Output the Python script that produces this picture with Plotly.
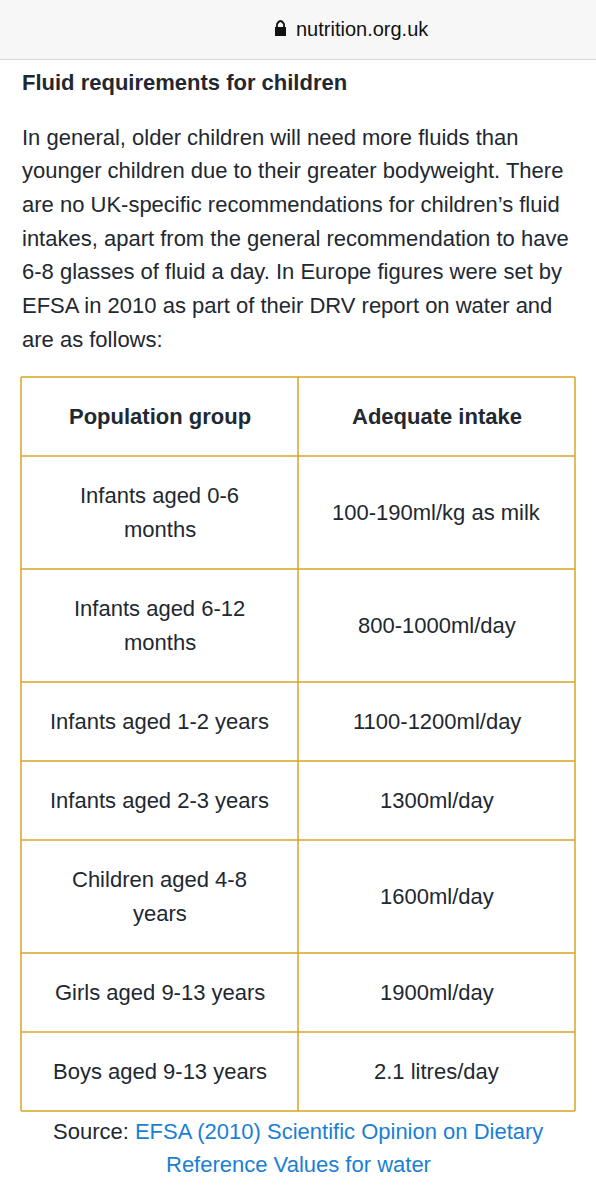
import plotly.graph_objects as go

groups = ["Infants aged 0-6\nmonths", "Infants aged 6-12\nmonths", "Infants aged 1-2 years",
          "Infants aged 2-3 years", "Children aged 4-8\nyears", "Girls aged 9-13 years",
          "Boys aged 9-13 years"]
intakes = ["100-190ml/kg as milk", "800-1000ml/day", "1100-1200ml/day", "1300ml/day",
           "1600ml/day", "1900ml/day", "2.1 litres/day"]
headers = ["Population group", "Adequate intake"]
paragraph = ["In general, older children will need more fluids than",
             "younger children due to their greater bodyweight. There",
             "are no UK-specific recommendations for children\u2019s fluid",
             "intakes, apart from the general recommendation to have",
             "6-8 glasses of fluid a day. In Europe figures were set by",
             "EFSA in 2010 as part of their DRV report on water and",
             "are as follows:"]

W, H = 596, 1200
FONT = "Liberation Sans, Arial, sans-serif"
DARK = "#222831"
GOLD = "#d9a526"
BLUE = "#1a7fd4"
fig = go.Figure()
shapes, ann = [], []

def text(x, y, s, size=22, color=DARK, anchor="center", bold=False):
    if bold:
        s = "<b>" + s + "</b>"
    ann.append(dict(x=x, y=y, text=s, showarrow=False, xanchor=anchor, yanchor="middle",
                    font=dict(family=FONT, size=size, color=color)))

# top bar
shapes.append(dict(type="rect", x0=0, x1=W, y0=0, y1=59, fillcolor="#f7f7f7", line_width=0, layer="below"))
shapes.append(dict(type="line", x0=0, x1=W, y0=59.5, y1=59.5, line=dict(color="#d8d8d8", width=1)))
shapes.append(dict(type="rect", x0=275, x1=286, y0=27, y1=36, fillcolor="#111", line_width=0))
shapes.append(dict(type="path", path="M 277 28 L 277 24 Q 280.5 18 284 24 L 284 28",
                   line=dict(color="#111", width=1.8)))
text(294, 29, "nutrition.org.uk", size=20, color="#111", anchor="left")

text(20, 82, "Fluid requirements for children", size=22, anchor="left", bold=True)
for i, line in enumerate(paragraph):
    text(20, 137 + i * 33.7, line, size=22, anchor="left")

# table
xl, xm, xr = 21, 298, 575
top = 377
rows = [(headers[0], headers[1], True)] + [(g, v, False) for g, v in zip(groups, intakes)]
ys = [top]
for g, v, b in rows:
    n = max(len(g.split("\n")), len(v.split("\n")))
    h = 45 + 34 * n
    yc = ys[-1] + h / 2
    for x, s in [((xl + xm) / 2, g), ((xm + xr) / 2, v)]:
        parts = s.split("\n")
        for k, p in enumerate(parts):
            text(x, yc + (k - (len(parts) - 1) / 2) * 34, p, size=22, bold=b)
    ys.append(ys[-1] + h)
for y in ys:
    shapes.append(dict(type="line", x0=xl, x1=xr, y0=y, y1=y, line=dict(color=GOLD, width=1.5)))
for x in (xl, xm, xr):
    shapes.append(dict(type="line", x0=x, x1=x, y0=ys[0], y1=ys[-1], line=dict(color=GOLD, width=1.5)))

src_y = ys[-1] + 20
ann.append(dict(x=298, y=src_y, text="Source: <span style='color:%s'>EFSA (2010) Scientific Opinion on Dietary</span>" % BLUE,
                showarrow=False, xanchor="center", yanchor="middle", font=dict(family=FONT, size=22, color=DARK)))
text(298, src_y + 33, "Reference Values for water", size=22, color=BLUE)

fig.update_layout(width=W, height=H, margin=dict(l=0, r=0, t=0, b=0),
                  paper_bgcolor="white", plot_bgcolor="white",
                  xaxis=dict(range=[0, W], visible=False, fixedrange=True),
                  yaxis=dict(range=[H, 0], visible=False, fixedrange=True),
                  shapes=shapes, annotations=ann, showlegend=False)
fig.write_html("out.html", config={"displayModeBar": False},
               post_script="document.body.style.margin='0px';document.body.style.overflow='hidden';")
